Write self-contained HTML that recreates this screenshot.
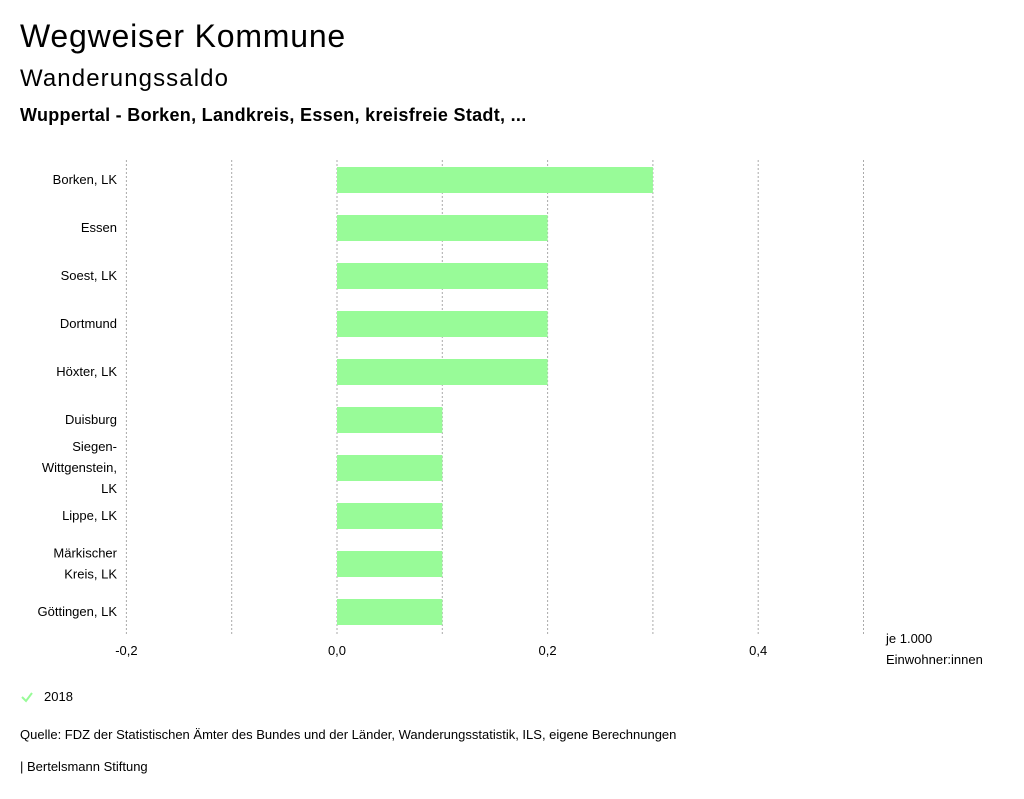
<!DOCTYPE html>
<html><head><meta charset="utf-8"><style>
body{margin:0;width:1024px;height:799px;background:#fff;font-family:"Liberation Sans","DejaVu Sans",sans-serif;color:#000;overflow:hidden}
.t{position:absolute;white-space:nowrap}
</style></head><body>
<div class="t" style="left:20px;top:18px;font-size:32px;letter-spacing:0.8px">Wegweiser Kommune</div>
<div class="t" style="left:20px;top:65px;font-size:24px;letter-spacing:1.1px">Wanderungssaldo</div>
<div class="t" style="left:20px;top:105px;font-size:18px;font-weight:bold;letter-spacing:0.3px">Wuppertal - Borken, Landkreis, Essen, kreisfreie Stadt, ...</div>
<svg id="chart" width="1024" height="700" style="position:absolute;left:0;top:0" font-family="Liberation Sans, DejaVu Sans, sans-serif"></svg>
<svg class="t" style="left:20px;top:690px" width="14" height="14"><path d="M2 7 L6 11 L12 3" stroke="#98fb98" stroke-width="2" fill="none"/></svg>
<div class="t" style="left:44px;top:689px;font-size:13px">2018</div>
<div class="t" style="left:20px;top:727px;font-size:13px">Quelle: FDZ der Statistischen Ämter des Bundes und der Länder, Wanderungsstatistik, ILS, eigene Berechnungen</div>
<div class="t" style="left:20px;top:759px;font-size:13px">| Bertelsmann Stiftung</div>
<script>
const categories=[["Borken, LK"],["Essen"],["Soest, LK"],["Dortmund"],["Höxter, LK"],["Duisburg"],["Siegen-","Wittgenstein,","LK"],["Lippe, LK"],["Märkischer","Kreis, LK"],["Göttingen, LK"]];
const values=[0.3,0.2,0.2,0.2,0.2,0.1,0.1,0.1,0.1,0.1];
const tickValues=[-0.2,0,0.2,0.4];
const tickLabels=["-0,2","0,0","0,2","0,4"];
const gridValues=[-0.2,-0.1,0,0.1,0.2,0.3,0.4,0.5];
const svg=document.getElementById('chart');const NS="http://www.w3.org/2000/svg";
const x=v=>337+v*1053;const rowY=i=>156+i*48;const top0=160,bot=635;
function mk(t,a){const e=document.createElementNS(NS,t);for(const k in a)e.setAttribute(k,a[k]);svg.appendChild(e);return e;}
gridValues.forEach(g=>{const l=mk('line',{x1:x(g),x2:x(g),y1:top0,y2:bot,stroke:'#aaa','stroke-dasharray':'2,2'});

});
values.forEach((v,i)=>{const r=mk('rect',{x:Math.min(x(0),x(v)),y:rowY(i)+11,width:Math.abs(x(v)-x(0)),height:26,fill:'#98fb98'});


const lines=categories[i];const c=rowY(i)+24;
lines.forEach((s,j)=>{const t=mk('text',{x:117,y:c+4+(j-(lines.length-1)/2)*21,'text-anchor':'end','font-size':13});t.textContent=s;

});});
tickValues.forEach((v,i)=>{const t=mk('text',{x:x(v),y:655,'text-anchor':'middle','font-size':13});t.textContent=tickLabels[i];

});
[["je 1.000",643],["Einwohner:innen",664]].forEach(([s,y])=>{const t=mk('text',{x:886,y:y,'font-size':13});t.textContent=s;

});
</script>
</body></html>
